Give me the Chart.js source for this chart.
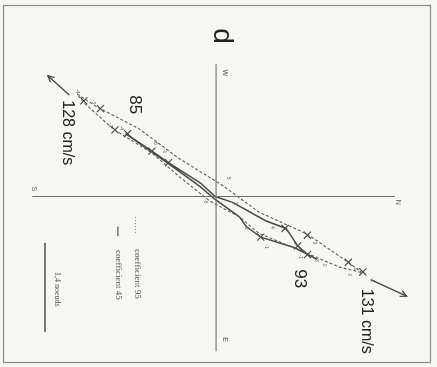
<!DOCTYPE html>
<html>
<head>
<meta charset="utf-8">
<script src="https://cdn.jsdelivr.net/npm/chart.js@4"></script>
<style>
  html, body { margin: 0; padding: 0; background: #f6f6f4; }
  canvas { display: block; }
</style>
</head>
<body>
<canvas id="grafico" width="437" height="367"></canvas>
<script>
const ctx = document.getElementById('grafico');

// figure tournée : x = Nord (vers la droite), y = Ouest (vers le haut)
let coef95 = [[-143,106],[-123,93],[-79,70],[-39,40],[6,12],[44,-16],[94,-39],[136,-68],[151,-79],
              [127,-73],[87,-56],[44,-38],[24,-21],[-6,-5],[-36,19],[-66,45],[-106,70],[-136,97],[-143,106]]
let coef45 = [[-93,65],[-66,47],[-49,35],[-16,14],[-1,0],[17,-6],[51,-25],[72,-33],[84,-51],[94,-60],[104,-65],
              [81,-53],[46,-42],[31,-31],[24,-21],[-1,-3],[-16,10],[-49,34],[-66,46],[-93,65]]
let croix = [[-136,99],[-119,91],[-104,69],[-91,65],[-66,47],[-49,35],[46,-42],[71,-33],[94,-40],
             [84,-51],[94,-60],[136,-68],[151,-78]]
let heures = [[-143,109],[-126,98],[-109,74],[-97,71],[-62,55],[-53,47],[13,19],[-11,-5],[20,-7],[31,-33],
              [58,-32],[52,-52],[87,-62],[101,-48],[103,-66],[111,-71],[137,-81],[143,-75],[161,-86]]
let heuresTexte = ["-4","-3","-3","-4","6","-1","5","-5","3","2","4","-1","-1","3","3","0","0","2","-1"]
let axeNS = [[-189,0],[184,0]]
let axeWE = [[0,137],[0,-160]]
let fleche131 = [[159,-86],[196,-103]]
let fleche128 = [[-151,105],[-173,125]]
let legende95 = [[-83,-21],[-83,-38]]
let legende45 = [[-101,-31],[-101,-41]]
let echelle = [[-176,-48],[-176,-140]]

// textes : [texte, x, y, taille, police]
let textes = [
    ["d", 6, 166, 28, "Liberation Sans"],
    ["128 cm/s", -153, 66, 16, "Liberation Sans"],
    ["85", -84, 95, 17, "Liberation Sans"],
    ["93", 86, -85, 17, "Liberation Sans"],
    ["131 cm/s", 155, -129, 16, "Liberation Sans"],
    ["W", 9, 128, 7, "Liberation Sans"],
    ["S", -187, 8, 7, "Liberation Sans"],
    ["N", 187, -6, 7, "Liberation Sans"],
    ["E", 9, -148, 7, "Liberation Sans"],
    ["coefficient 95", -81, -80, 9, "Liberation Serif"],
    ["coefficient 45", -101, -81, 9, "Liberation Serif"],
    ["1,4 noeuds", -164, -96, 8, "Liberation Serif"]
]

const pts = arr => arr.map(p => ({ x: p[0], y: p[1] }))

function ligne(arr, couleur, largeur, tirets) {
    return {
        data: pts(arr),
        showLine: true,
        borderColor: couleur,
        borderWidth: largeur,
        borderDash: tirets || [],
        pointRadius: 0,
        fill: false,
        clip: false
    }
}

const textesPlugin = {
    id: 'textes',
    afterDatasetsDraw(chart) {
        const c = chart.ctx
        const sx = chart.scales.x, sy = chart.scales.y
        c.save()
        // cadre
        c.strokeStyle = '#8a8a8a'
        c.lineWidth = 1.2
        c.strokeRect(3.5, 5.5, 427, 357)
        // pointes de flèches
        c.strokeStyle = '#444'
        c.lineWidth = 1.3
        ;[fleche131, fleche128].forEach(f => {
            const x0 = sx.getPixelForValue(f[0][0]), y0 = sy.getPixelForValue(f[0][1])
            const x1 = sx.getPixelForValue(f[1][0]), y1 = sy.getPixelForValue(f[1][1])
            const a = Math.atan2(y1 - y0, x1 - x0)
            c.beginPath()
            c.moveTo(x1 - 7 * Math.cos(a - 0.45), y1 - 7 * Math.sin(a - 0.45))
            c.lineTo(x1, y1)
            c.lineTo(x1 - 7 * Math.cos(a + 0.45), y1 - 7 * Math.sin(a + 0.45))
            c.stroke()
        })
        // textes tournés de 90°
        c.textAlign = 'center'
        c.textBaseline = 'middle'
        textes.forEach(t => {
            c.save()
            c.translate(sx.getPixelForValue(t[1]), sy.getPixelForValue(t[2]))
            c.rotate(Math.PI / 2)
            c.fillStyle = t[3] > 10 ? '#222' : '#555'
            c.font = t[3] + 'px "' + t[4] + '"'
            c.fillText(t[0], 0, 0)
            c.restore()
        })
        heures.forEach((h, i) => {
            c.save()
            c.translate(sx.getPixelForValue(h[0]), sy.getPixelForValue(h[1]))
            c.rotate(Math.PI / 2)
            c.fillStyle = '#666'
            c.font = '5px "Liberation Sans"'
            c.fillText(heuresTexte[i], 0, 0)
            c.restore()
        })
        c.restore()
    }
}

new Chart(ctx, {
    type: 'scatter',
    data: {
        datasets: [
            ligne(axeNS, '#6e6e6e', 1.1),
            ligne(axeWE, '#6e6e6e', 1.1),
            ligne(coef95, '#5e5e5e', 1.1, [3, 2]),
            ligne(coef45, '#4a4a4a', 1.5),
            ligne(fleche131, '#444', 1.3),
            ligne(fleche128, '#444', 1.3),
            ligne(legende95, '#777', 1, [1, 2]),
            ligne(legende45, '#555', 1.2),
            ligne(echelle, '#666', 1),
            {
                data: pts(croix),
                pointStyle: 'crossRot',
                pointRadius: 5,
                borderColor: '#444',
                borderWidth: 1.1,
                showLine: false,
                clip: false
            }
        ]
    },
    options: {
        responsive: false,
        animation: false,
        layout: { padding: 0 },
        plugins: { legend: { display: false }, tooltip: { enabled: false } },
        scales: {
            x: { type: 'linear', display: false, min: -216, max: 221 },
            y: { type: 'linear', display: false, min: -170, max: 197 }
        }
    },
    plugins: [textesPlugin]
});
</script>
</body>
</html>
